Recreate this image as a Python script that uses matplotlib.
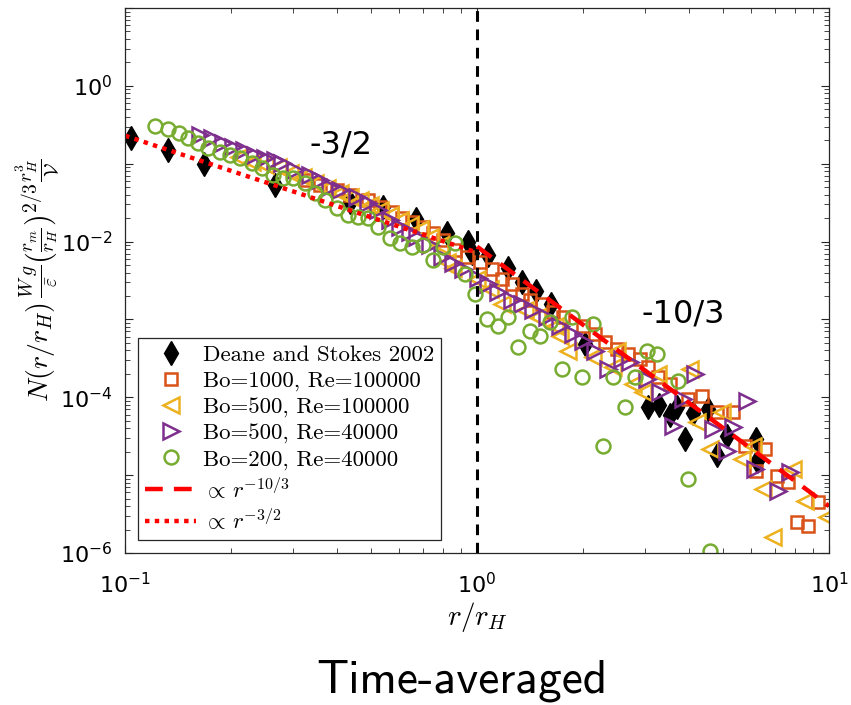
import matplotlib
matplotlib.use('Agg')
from matplotlib import pyplot as plt

plt.rcParams['mathtext.fontset'] = 'cm'
plt.rcParams['axes.unicode_minus'] = False

# Deane and Stokes 2002
deane_r = [0.104, 0.132, 0.168, 0.267, 0.436, 0.541, 0.671, 0.822, 0.943, 0.968,
           1.075, 1.225, 1.342, 1.472, 1.622, 2.027, 3.061, 3.289, 3.532, 3.698,
           3.899, 4.108, 4.530, 4.806, 5.130, 6.203, 6.240]
deane_n = [0.215, 0.151, 0.100, 0.0538, 0.0326, 0.0281, 0.0197, 0.0130, 0.0100, 0.00723,
           0.00681, 0.00464, 0.00298, 0.00229, 0.00156, 4.78e-4, 7.45e-5, 7.89e-5, 5.88e-5, 7.45e-5,
           2.90e-5, 6.24e-5, 7.02e-5, 1.80e-5, 3.16e-5, 2.90e-5, 1.51e-5]

# Bo=1000, Re=100000
bo1000_r = [0.325, 0.358, 0.400, 0.436, 0.490, 0.530, 0.574, 0.612, 0.654, 0.703,
            0.750, 0.800, 0.866, 0.937, 1.020, 1.103, 1.178, 1.257, 1.342, 1.415,
            1.530, 1.643, 1.755, 2.000, 2.164, 2.311, 2.500, 2.685, 2.904, 3.061,
            3.267, 3.532, 3.972, 4.356, 4.806, 5.336, 5.772, 6.203, 6.580, 7.115,
            7.651, 9.31, 8.111, 8.71]
bo1000_n = [0.0624, 0.0538, 0.0464, 0.0401, 0.0345, 0.0281, 0.0243, 0.0203, 0.0180, 0.0156,
            0.0130, 0.0106, 0.00789, 0.00642, 0.00554, 0.00438, 0.00326, 0.00281, 0.00209, 0.00180,
            0.00156, 0.00123, 0.00106, 8.13e-4, 6.42e-4, 5.07e-4, 4.12e-4, 3.56e-4, 3.07e-4, 2.43e-4,
            1.80e-4, 1.47e-4, 9.42e-5, 1.03e-4, 6.42e-5, 6.42e-5, 2.35e-5, 1.12e-5, 2.15e-5, 9.7e-6,
            8.1e-6, 4.5e-6, 2.5e-6, 2.2e-6]

# Bo=500, Re=100000
bo500a_r = [0.210, 0.230, 0.250, 0.272, 0.294, 0.321, 0.347, 0.375, 0.408, 0.436,
            0.465, 0.497, 0.530, 0.566, 0.604, 0.645, 0.689, 0.735, 0.785, 0.822,
            0.855, 1.000, 1.089, 1.178, 1.368, 1.481, 1.666, 1.721, 1.814, 2.137,
            2.433, 2.500, 2.773, 2.963, 3.267, 4.027, 4.217, 4.590, 4.963, 5.662,
            6.082, 6.500, 6.934, 7.905, 8.551, 9.87]
bo500a_n = [0.123, 0.106, 0.097, 0.0916, 0.0767, 0.0681, 0.0570, 0.0492, 0.0425, 0.0378,
            0.0345, 0.0298, 0.0257, 0.0222, 0.0191, 0.0165, 0.0143, 0.0116, 0.00916, 0.00554,
            0.00464, 0.00326, 0.00243, 0.00156, 0.00134, 0.00109, 8.13e-4, 6.05e-4, 3.89e-4, 3.26e-4,
            2.43e-4, 3.89e-4, 1.47e-4, 1.16e-4, 1.97e-4, 2.29e-4, 4.78e-5, 2.15e-5, 6.42e-5, 1.60e-5,
            2.35e-5, 6.6e-6, 1.6e-6, 1.19e-5, 4.6e-6, 2.9e-6]

# Bo=500, Re=40000
bo500b_r = [0.163, 0.177, 0.190, 0.203, 0.218, 0.234, 0.250, 0.267, 0.279, 0.304,
            0.335, 0.358, 0.382, 0.408, 0.456, 0.490, 0.524, 0.566, 0.604, 0.645,
            0.676, 0.735, 0.796, 0.855, 0.912, 1.007, 1.075, 1.147, 1.257, 1.342,
            1.442, 1.581, 1.721, 1.874, 2.000, 2.164, 2.355, 2.582, 2.720, 3.041,
            3.311, 3.605, 3.848, 4.161, 4.677, 5.130, 5.336, 5.846, 6.166, 7.164,
            7.745]
bo500b_n = [0.235, 0.215, 0.186, 0.165, 0.151, 0.130, 0.119, 0.112, 0.103, 0.0838,
            0.0723, 0.0624, 0.0507, 0.0464, 0.0378, 0.0316, 0.0257, 0.0191, 0.0156, 0.0134,
            0.0116, 0.00916, 0.00642, 0.00538, 0.00438, 0.00345, 0.00281, 0.00222, 0.00180, 0.00156,
            0.00134, 0.00109, 8.13e-4, 6.42e-4, 5.22e-4, 3.89e-4, 2.29e-4, 3.07e-4, 2.81e-4, 1.70e-4,
            1.16e-4, 4.25e-5, 9.42e-5, 1.97e-4, 3.89e-5, 2.03e-5, 4.12e-5, 8.89e-5, 1.19e-5, 6.2e-6,
            1.09e-5]

# Bo=200, Re=40000
bo200_r = [0.122, 0.132, 0.142, 0.151, 0.161, 0.172, 0.186, 0.199, 0.212, 0.230,
           0.245, 0.263, 0.281, 0.300, 0.325, 0.347, 0.370, 0.400, 0.430, 0.459,
           0.490, 0.524, 0.566, 0.604, 0.654, 0.703, 0.750, 0.800, 0.866, 0.925,
           0.987, 1.067, 1.147, 1.225, 1.307, 1.415, 1.510, 1.611, 1.743, 1.862,
           1.987, 2.137, 2.280, 2.433, 2.633, 2.810, 3.041, 3.245, 3.724, 3.972,
           4.590]
bo200_n = [0.307, 0.281, 0.250, 0.215, 0.186, 0.160, 0.143, 0.130, 0.119, 0.103,
           0.0889, 0.0723, 0.0662, 0.0662, 0.0570, 0.0425, 0.0345, 0.0273, 0.0222, 0.0209,
           0.0203, 0.0156, 0.0112, 0.0097, 0.00863, 0.00916, 0.00588, 0.00863, 0.0097, 0.00378,
           0.00209, 0.00100, 8.13e-4, 0.00109, 4.38e-4, 7.02e-4, 6.05e-4, 9.16e-4, 2.29e-4, 0.00109,
           1.80e-4, 8.63e-4, 2.35e-5, 1.80e-4, 7.45e-5, 1.80e-4, 3.89e-4, 3.56e-4, 1.60e-4, 8.9e-6,
           1.06e-6]

# степенные законы
fit_hi_r = [1.0, 10.0]
fit_hi_n = [0.0086, 4.0e-6]
fit_lo_r = [0.1, 1.0]
fit_lo_n = [0.229, 0.00724]

y_ticks = [1e-6, 1e-5, 1e-4, 1e-3, 1e-2, 1e-1, 1e0, 1e1]
y_labels = ['$\\mathregular{10^{-6}}$', '', '$\\mathregular{10^{-4}}$', '',
            '$\\mathregular{10^{-2}}$', '', '$\\mathregular{10^{0}}$', '']
x_ticks = [0.1, 1.0, 10.0]
x_labels = ['$\\mathregular{10^{-1}}$', '$\\mathregular{10^{0}}$', '$\\mathregular{10^{1}}$']


def draw():
    fig = plt.figure(figsize=(8.51, 7.05), dpi=100)
    ax = fig.add_axes([0.147, 0.2156, 0.8272, 0.7731])

    mw = 1.8
    ax.plot(deane_r, deane_n, 'd', color='k', ms=12, label='Deane and Stokes 2002')
    ax.plot(bo1000_r, bo1000_n, 's', mfc='none', mec='#D95319', mew=mw, ms=8.5,
            label='Bo=1000, Re=100000')
    ax.plot(bo500a_r, bo500a_n, '<', mfc='none', mec='#EDB120', mew=mw, ms=11,
            label='Bo=500, Re=100000')
    ax.plot(bo500b_r, bo500b_n, '>', mfc='none', mec='#7E2F8E', mew=mw, ms=11,
            label='Bo=500, Re=40000')
    ax.plot(bo200_r, bo200_n, 'o', mfc='none', mec='#77AC30', mew=mw, ms=10,
            label='Bo=200, Re=40000')
    ax.plot(fit_hi_r, fit_hi_n, '--', color='red', lw=3.2, dashes=(4, 2.5),
            label='$\\propto\\, r^{-10/3}$')
    ax.plot(fit_lo_r, fit_lo_n, ':', color='red', lw=3.2, dashes=(1, 1.2),
            label='$\\propto\\, r^{-3/2}$')
    ax.axvline(1.0, color='k', lw=2.2, ls='--', dashes=(3.5, 2.5))

    ax.set_xscale('log')
    ax.set_yscale('log')
    ax.set_xlim(0.1, 10)
    ax.set_ylim(1e-6, 10)
    ax.set_xticks(x_ticks)
    ax.set_xticklabels(x_labels, fontsize=16)
    ax.set_yticks(y_ticks)
    ax.set_yticklabels(y_labels, fontsize=16)
    ax.tick_params(which='both', direction='in', top=True, right=True,
                   color='0.15')
    ax.tick_params(axis='x', pad=14)
    ax.tick_params(axis='y', pad=9)
    ax.tick_params(which='major', length=6)
    ax.tick_params(which='minor', length=3.5)
    for s in ax.spines.values():
        s.set_color('0.15')
        s.set_linewidth(0.9)

    ax.text(0.411, 0.175, '-3/2', fontsize=23, ha='center', va='center')
    ax.text(3.85, 0.00116, '-10/3', fontsize=23, ha='center', va='center')

    ax.set_xlabel('$r/r_H$', fontsize=21, labelpad=2)
    ax.set_ylabel('$N(r/r_H)\\,\\frac{W\\,g}{\\bar{\\varepsilon}}\\left(\\frac{r_m}{r_H}\\right)^{2/3}\\frac{r_H^3}{\\mathcal{V}}$',
                  fontsize=20, labelpad=0)

    leg = ax.legend(loc='lower left', bbox_to_anchor=(0.019, 0.024), borderaxespad=0,
                    numpoints=1, fancybox=False, framealpha=1, edgecolor='0.15',
                    prop={'family': 'cmr10', 'size': 16.5}, labelspacing=0.25,
                    handlelength=2.2, handletextpad=0.3, borderpad=0.3)
    leg.get_frame().set_linewidth(0.9)

    fig.text(0.543, 0.035, 'Time-averaged', fontsize=34, family='cmss10',
             ha='center', va='center')

    fig.savefig('out.png', dpi=100)


def main():
    draw()


if __name__ == '__main__':
    main()
